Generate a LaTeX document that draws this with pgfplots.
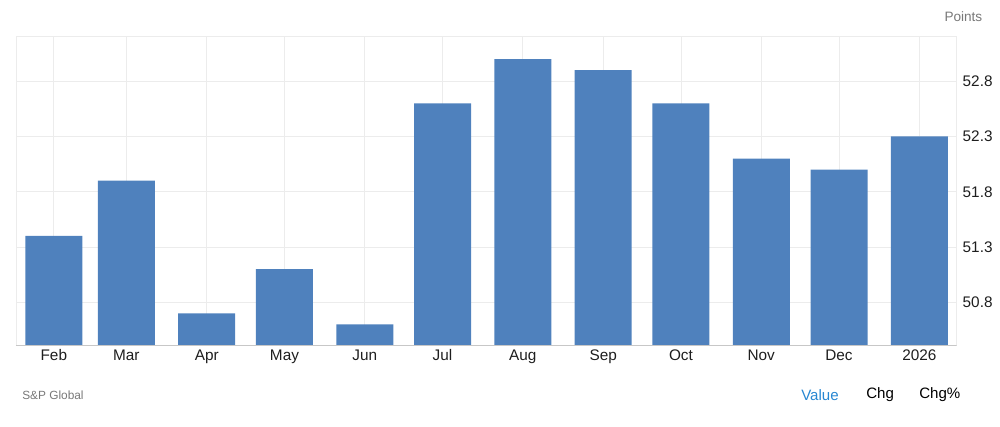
\documentclass[border=0pt]{standalone}
\usepackage{fontspec}
\setmainfont{Liberation Sans}
\usepackage{pgfplots}
\pgfplotsset{compat=1.18}
\definecolor{barblue}{RGB}{79,129,189}
\definecolor{gridc}{RGB}{236,236,236}
\definecolor{ticktxt}{RGB}{30,30,30}
\definecolor{srcgray}{RGB}{120,120,120}
\definecolor{linkblue}{RGB}{39,135,210}
\begin{document}
\begin{tikzpicture}
\useasboundingbox (0pt,0pt) rectangle (750pt,320.25pt);
\begin{axis}[
 at={(12pt,61pt)},anchor=south west,
 scale only axis,width=705.5pt,height=232.3pt,
 xmin=-14.6,xmax=348.4,ymin=50.407,ymax=53.21,
 ybar,bar width=22,
 xtick={0,28,59,89,120,150,181,212,242,273,303,334},
 xticklabels={Feb,Mar,Apr,May,Jun,Jul,Aug,Sep,Oct,Nov,Dec,2026},
 ytick={50.8,51.3,51.8,52.3,52.8},
 yticklabels={50.8,51.3,51.8,52.3,52.8},
 yticklabel pos=right,
 major tick length=0pt,
 xmajorgrids,ymajorgrids,grid style={gridc,line width=0.6pt},
 axis line style={draw=gridc,line width=0.6pt},
 /pgf/number format/assume math mode=true,
 tick label style={font=\fontsize{11.5}{13}\selectfont,text=ticktxt},
 yticklabel style={anchor=west,xshift=1pt},
 xticklabel style={text height=8.4pt,text depth=2.4pt,yshift=1pt},
]
\addplot[fill=barblue,draw=none] coordinates {
 (0,51.4) (28,51.9) (59,50.7) (89,51.1) (120,50.6) (150,52.6)
 (181,53.0) (212,52.9) (242,52.6) (273,52.1) (303,52.0) (334,52.3)};
\draw[black!22,line width=0.7pt] (rel axis cs:0,0) -- (rel axis cs:1,0);
\end{axis}
\begin{scope}[x=0.75pt,y=0.75pt]
\node[anchor=east,text=srcgray,font=\fontsize{10.2}{12}\selectfont] at (987,410) {Points};
\node[anchor=west,text=srcgray,font=\fontsize{8.9}{11}\selectfont,inner sep=0pt] at (22,32) {S\&P Global};
\node[anchor=west,text=linkblue,font=\fontsize{11.3}{13}\selectfont,inner sep=0pt] at (801,32) {Value};
\node[anchor=west,text=black,font=\fontsize{11.3}{13}\selectfont,inner sep=0pt] at (866,32) {Chg};
\node[anchor=west,text=black,font=\fontsize{11.3}{13}\selectfont,inner sep=0pt] at (919,32) {Chg\%};
\end{scope}
\end{tikzpicture}
\end{document}
